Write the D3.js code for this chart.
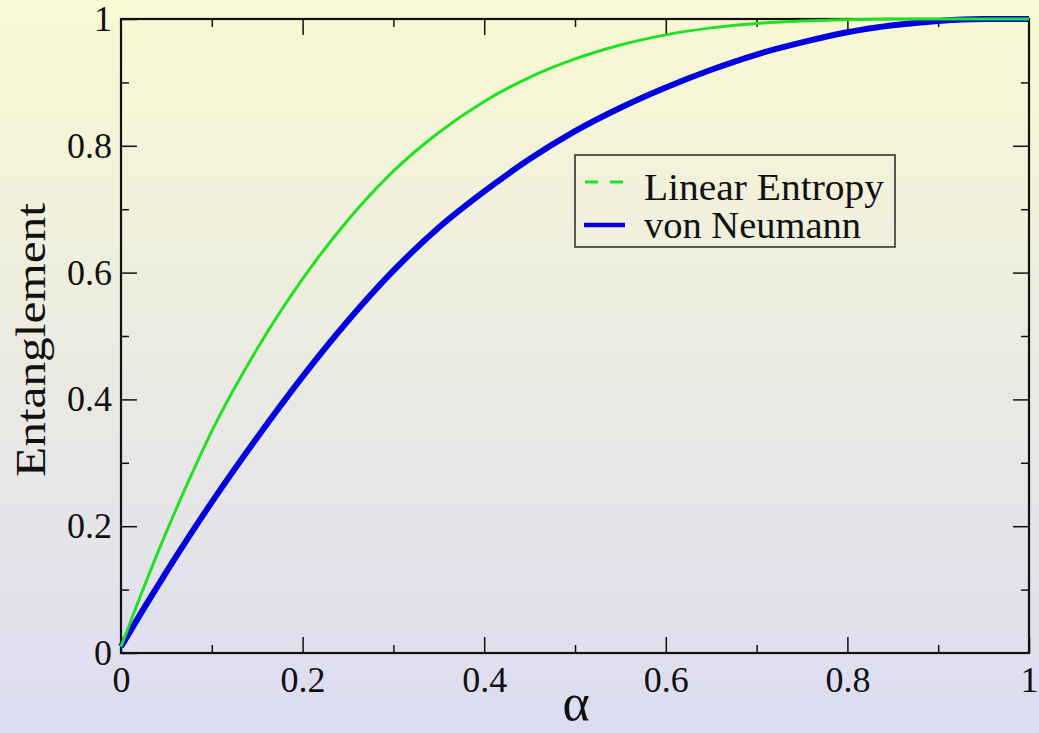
<!DOCTYPE html>
<html>
<head>
<meta charset="utf-8">
<script src="https://cdn.jsdelivr.net/npm/d3@7"></script>
<style>
  html, body { margin: 0; padding: 0; background: #ebebe4; }
  svg { display: block; }
</style>
</head>
<body>
<svg id="chart" width="1039" height="733"></svg>
<script>
// Mixing parameter α and the two entanglement measures sampled along it
const alpha = [0, 0.025, 0.05, 0.075, 0.1, 0.15, 0.2, 0.25, 0.3, 0.35, 0.4, 0.45,
               0.5, 0.55, 0.6, 0.65, 0.7, 0.75, 0.8, 0.85, 0.9, 0.95, 1];
const linearEntropy = [0.01, 0.103, 0.191, 0.273, 0.35, 0.48, 0.59, 0.683, 0.76, 0.821, 0.87, 0.908,
                       0.937, 0.959, 0.975, 0.986, 0.993, 0.997, 0.999, 1.0, 1.0, 1.0, 1.0];
const vonNeumann = [0.01, 0.07, 0.128, 0.184, 0.238, 0.34, 0.436, 0.524, 0.603, 0.671, 0.728, 0.779,
                    0.823, 0.86, 0.892, 0.92, 0.944, 0.963, 0.979, 0.99, 0.997, 1.0, 1.0];

// Axis ticks
const majorTicks = [0, 0.2, 0.4, 0.6, 0.8, 1];
const majorLabels = ["0", "0.2", "0.4", "0.6", "0.8", "1"];
const minorTicks = [0.1, 0.3, 0.5, 0.7, 0.9];

const seriesNames = ["Linear Entropy", "von Neumann"];

const SERIF = "'Liberation Serif', 'Times New Roman', Times, serif";
const svg = d3.select("#chart");
const W = 1039, H = 733;
const plot = { left: 121, right: 1029, top: 19, bottom: 653 };

// Page background: pale yellow fading to lavender
const defs = svg.append("defs");
const grad = defs.append("linearGradient")
  .attr("id", "bg").attr("x1", 0).attr("y1", 0).attr("x2", 0).attr("y2", 1);
grad.append("stop").attr("offset", "0%").attr("stop-color", "#f9f9d3");
grad.append("stop").attr("offset", "100%").attr("stop-color", "#dcdcf2");
svg.append("rect").attr("width", W).attr("height", H).attr("fill", "url(#bg)");

const x = d3.scaleLinear().domain([0, 1]).range([plot.left, plot.right]);
const y = d3.scaleLinear().domain([0, 1]).range([plot.bottom, plot.top]);

const labelOf = d => majorLabels[majorTicks.indexOf(d)];
const MAJOR = 16, MINOR = 8;

function styleAxis(g) {
  g.select(".domain").remove();
  g.selectAll(".tick line").attr("stroke", "#111").attr("stroke-width", 1.5);
  g.selectAll(".tick text").attr("font-size", 36).attr("fill", "#111")
    .attr("font-family", SERIF);
}

// Bottom axis with labels
svg.append("g").attr("transform", `translate(0,${plot.bottom})`)
  .call(d3.axisBottom(x).tickValues(majorTicks).tickSize(-MAJOR).tickPadding(13).tickFormat(labelOf))
  .call(styleAxis);
svg.append("g").attr("transform", `translate(0,${plot.bottom})`)
  .call(d3.axisBottom(x).tickValues(minorTicks).tickSize(-MINOR).tickFormat(""))
  .call(styleAxis);

// Left axis with labels
svg.append("g").attr("transform", `translate(${plot.left},0)`)
  .call(d3.axisLeft(y).tickValues(majorTicks).tickSize(-MAJOR).tickPadding(9).tickFormat(labelOf))
  .call(styleAxis);
svg.append("g").attr("transform", `translate(${plot.left},0)`)
  .call(d3.axisLeft(y).tickValues(minorTicks).tickSize(-MINOR).tickFormat(""))
  .call(styleAxis);

// Mirrored ticks on top and right edges
svg.append("g").attr("transform", `translate(0,${plot.top})`)
  .call(d3.axisTop(x).tickValues(majorTicks.slice(1, -1)).tickSize(-MAJOR).tickFormat(""))
  .call(styleAxis);
svg.append("g").attr("transform", `translate(0,${plot.top})`)
  .call(d3.axisTop(x).tickValues(minorTicks).tickSize(-MINOR).tickFormat(""))
  .call(styleAxis);
svg.append("g").attr("transform", `translate(${plot.right},0)`)
  .call(d3.axisRight(y).tickValues(majorTicks.slice(1, -1)).tickSize(-MAJOR).tickFormat(""))
  .call(styleAxis);
svg.append("g").attr("transform", `translate(${plot.right},0)`)
  .call(d3.axisRight(y).tickValues(minorTicks).tickSize(-MINOR).tickFormat(""))
  .call(styleAxis);

// Frame
svg.append("rect")
  .attr("x", plot.left).attr("y", plot.top)
  .attr("width", plot.right - plot.left).attr("height", plot.bottom - plot.top)
  .attr("fill", "none").attr("stroke", "#111").attr("stroke-width", 2.2);

// Curves
const line = d3.line().curve(d3.curveMonotoneX);
const greenCol = "#22e022", blueCol = "#0000e0";

svg.append("path")
  .attr("d", line(alpha.map((a, i) => [x(a), y(vonNeumann[i])])))
  .attr("fill", "none").attr("stroke", blueCol).attr("stroke-width", 6)
  .attr("stroke-linejoin", "round");
svg.append("path")
  .attr("d", line(alpha.map((a, i) => [x(a), y(linearEntropy[i])])))
  .attr("fill", "none").attr("stroke", greenCol).attr("stroke-width", 3)
  .attr("stroke-linejoin", "round");

// Axis titles
svg.append("text")
  .attr("x", (plot.left + plot.right) / 2 + 1).attr("y", 720)
  .attr("text-anchor", "middle").attr("font-size", 52)
  .attr("font-family", SERIF).attr("fill", "#111")
  .text("α");

svg.append("text")
  .attr("transform", `translate(45,${(plot.top + plot.bottom) / 2 + 4}) rotate(-90)`)
  .attr("text-anchor", "middle").attr("font-size", 42)
  .attr("font-family", SERIF).attr("fill", "#111")
  .attr("textLength", 274).attr("lengthAdjust", "spacingAndGlyphs")
  .text("Entanglement");

// Legend
const lg = svg.append("g");
lg.append("rect")
  .attr("x", 575).attr("y", 155).attr("width", 320).attr("height", 92)
  .attr("fill", "none").attr("stroke", "#333").attr("stroke-width", 1.6);
lg.append("line")
  .attr("x1", 585).attr("x2", 624).attr("y1", 182).attr("y2", 182)
  .attr("stroke", greenCol).attr("stroke-width", 3).attr("stroke-dasharray", "13 12");
lg.append("line")
  .attr("x1", 584).attr("x2", 625).attr("y1", 225).attr("y2", 225)
  .attr("stroke", blueCol).attr("stroke-width", 4.5);
lg.append("text").attr("x", 644).attr("y", 200).attr("font-size", 37)
  .attr("font-family", SERIF).attr("fill", "#111")
  .attr("textLength", 240).attr("lengthAdjust", "spacingAndGlyphs")
  .text(seriesNames[0]);
lg.append("text").attr("x", 644).attr("y", 238).attr("font-size", 37)
  .attr("font-family", SERIF).attr("fill", "#111")
  .attr("textLength", 217).attr("lengthAdjust", "spacingAndGlyphs")
  .text(seriesNames[1]);
</script>
</body>
</html>
